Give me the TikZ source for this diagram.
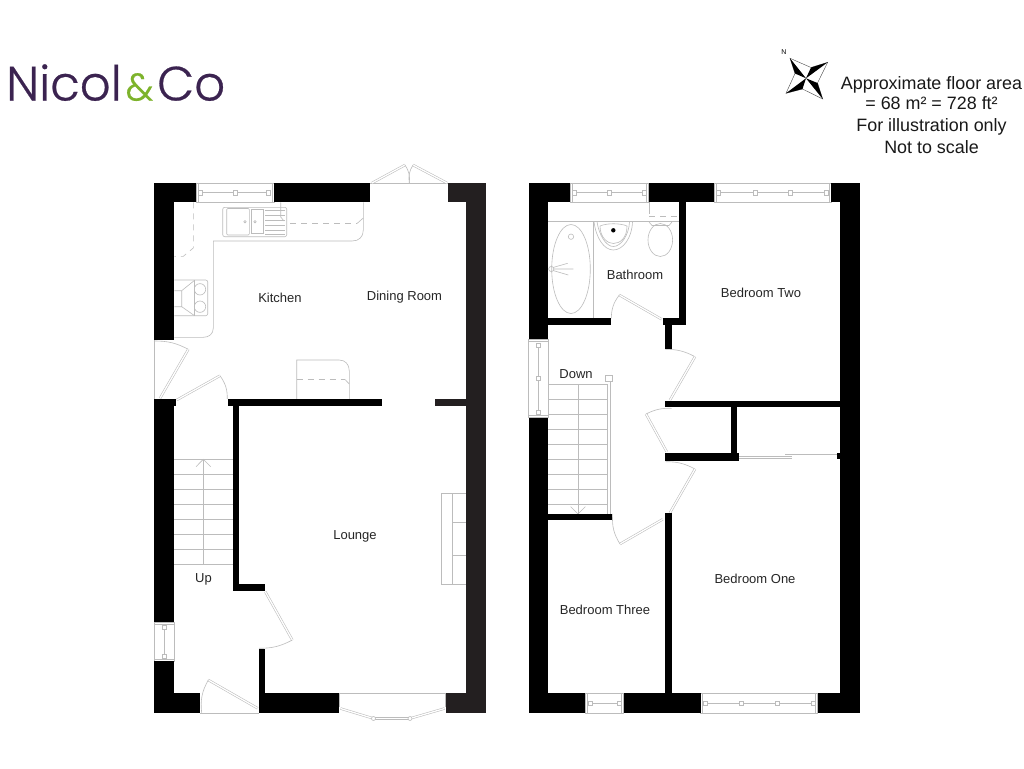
\documentclass[tikz,border=0pt]{standalone}
\usepackage{fontspec}
\setmainfont{Liberation Sans}
\newfontfamily\logofont[FakeBold=0.5]{Poppins Light}
\definecolor{lg}{HTML}{BCBCBC}
\definecolor{wl}{HTML}{000000}
\definecolor{wd}{HTML}{231F20}
\definecolor{plum}{HTML}{3B2350}
\definecolor{leaf}{HTML}{7DB32B}
\tikzset{
 wall/.style={fill=wl,draw=none},
 walld/.style={fill=wd,draw=none},
 thin line/.style={draw=lg,line width=.6pt},
 dash line/.style={draw=lg,line width=.6pt,dash pattern=on 6pt off 5pt},
 doorleaf/.style={draw=lg,line width=.55pt,double=white,double distance=1.3pt},
 roomlabel/.style={font=\fontsize{13}{15}\selectfont,text=black!85,inner sep=0pt},
 infolabel/.style={font=\fontsize{17.9}{21}\selectfont,text=black!90,inner sep=0pt},
}
\newcommand{\hwin}[5]{%
 \draw[thin line] (#1,#3) rectangle (#2,#4);
 \draw[thin line] (#1+2,#3) -- (#1+2,#4) (#2-2,#3) -- (#2-2,#4);
 \draw[thin line] (#1+4,{(#3+#4)/2}) -- (#2-4,{(#3+#4)/2});
 \foreach \q in {#5}{\draw[thin line,fill=white] (\q-1.8,{(#3+#4)/2-2.2}) rectangle (\q+1.8,{(#3+#4)/2+2.2});}
}
\newcommand{\vwin}[5]{%
 \draw[thin line] (#1,#3) rectangle (#2,#4);
 \draw[thin line] (#1,#3+2) -- (#2,#3+2) (#1,#4-2) -- (#2,#4-2);
 \draw[thin line] ({(#1+#2)/2},#3+4) -- ({(#1+#2)/2},#4-4);
 \foreach \q in {#5}{\draw[thin line,fill=white] ({(#1+#2)/2-2.2},\q-1.8) rectangle ({(#1+#2)/2+2.2},\q+1.8);}
}
\begin{document}
\begin{tikzpicture}[x=1pt,y=-1pt]
\useasboundingbox (0,0) rectangle (1024,768);
\fill[white] (0,0) rectangle (1024,768);

% ---------- Logo and notes
\node[anchor=base west,inner sep=0pt,text=plum] (logo) at (6,100.5) {\resizebox{219pt}{!}{\logofont Nicol\kern.08em\scalebox{.8}{\textcolor{leaf}{\&}}\kern.08em Co}};
\node[infolabel,anchor=base] (n1) at (931.5,89) {Approximate floor area};
\node[infolabel,anchor=base] (n2) at (931.5,109.5) {= 68 m² = 728 ft²};
\node[infolabel,anchor=base] (n3) at (931.5,131) {For illustration only};
\node[infolabel,anchor=base] (n4) at (931.5,153) {Not to scale};

% compass
\node[inner sep=0pt,font=\fontsize{7}{8}\selectfont] (north) at (784,52) {N};
\coordinate (cc) at (806,78.3);
\draw[black!70,line width=.4pt,fill=white] (790,58.3) -- (811,67.5) -- (827.7,62.3) -- (817.5,83) -- (822.7,99) -- (802.5,89) -- (786,93.3) -- (795,73.5) -- cycle;
\fill[black] (cc) -- (790,58.3) -- (795,73.5) -- cycle;
\fill[black] (cc) -- (827.7,62.3) -- (811,67.5) -- cycle;
\fill[black] (cc) -- (822.7,99) -- (817.5,83) -- cycle;
\fill[black] (cc) -- (786,93.3) -- (802.5,89) -- cycle;

% ---------- Ground floor fixtures
\hwin{196}{274}{183}{202.3}{200,235,268}
\vwin{154}{174.3}{622}{661}{627,656}
% French doors
\draw[thin line] (370,183.3) -- (448,183.3);
\draw[doorleaf] (372,183) -- (405,165);
\draw[doorleaf] (447,183) -- (413,165);
\draw[thin line] (405,165) to[bend left=20] (409.3,183);
\draw[thin line] (413,165) to[bend right=20] (409.3,183);
% back door
\draw[thin line] (154,340) -- (154,399);
\draw[thin line] (154,341) to[bend left=14] (188.3,349.3);
\draw[doorleaf] (188.3,349.3) -- (160,398.3);
% kitchen to hall
\draw[doorleaf] (176.7,400) -- (220,375.7);
\draw[thin line] (220,375.7) to[bend left=18] (227.3,399);
% lounge door
\draw[doorleaf] (265.3,591.7) -- (292.3,640);
\draw[thin line] (292.3,640) to[bend left=14] (259,648.3);
% front door
\draw[thin line] (200,713.3) -- (258.7,713.3);
\draw[doorleaf] (257.7,708.3) -- (208.3,680);
\draw[thin line] (208.3,680) to[bend right=18] (201.7,713);
% bay
\draw[thin line] (339,693.3) -- (445.7,693.3);
\draw[thin line] (339,693.3) -- (339,707) (445.7,693.3) -- (445.7,707);
\draw[doorleaf] (340.5,708.5) -- (373.5,718.5);
\draw[doorleaf] (373.5,718.5) -- (410,718.5);
\draw[doorleaf] (410,718.5) -- (444.5,708.5);
\draw[thin line,fill=white] (373.5,718.5) circle (2);
\draw[thin line,fill=white] (410,718.5) circle (2);
% kitchen units
\draw[thin line] (174.3,337.3) -- (203.3,337.3) .. controls (209,337.3) and (213.3,334) .. (213.3,328) -- (213.3,241) -- (352,241) .. controls (359,241) and (363.3,237) .. (363.3,230) -- (363.3,202.3);
\draw[dash line] (193.3,202.3) -- (193.3,248) -- (183.3,256.3) -- (174.3,256.3);
\draw[dash line] (290,223.5) -- (357,223.5);
\draw[thin line] (357,223.5) -- (363.3,218);
% sink
\draw[thin line,rounded corners=2pt] (222.7,207.3) rectangle (286.7,236.7);
\draw[thin line,rounded corners=1pt] (226.7,208.5) rectangle (249.3,235);
\draw[thin line] (251,209.3) rectangle (263.7,233.3);
\draw[thin line] (245,221.7) circle (1.2) (255,221.7) circle (1.2);
\foreach \yy in {210.5,215.5,220,225,230,234.5}{\draw[thin line] (265,\yy) -- (285,\yy);}
\draw[thin line] (280.7,202.3) -- (280.7,217) -- (284,221);
% hob
\draw[thin line,rounded corners=2pt] (174.3,280) -- (207.7,280) -- (207.7,315.7) -- (174.3,315.7);
\draw[thin line] (194.3,280) -- (194.3,315.7);
\draw[thin line] (200,289.3) circle (5.7) (200,306.7) circle (5.7);
\draw[thin line] (174.3,290.7) -- (181.7,290.7) -- (194.3,280.5) (174.3,306.7) -- (181.7,306.7) -- (194.3,315.5) (181.7,290.7) -- (181.7,306.7);
% dining unit
\draw[thin line] (296.7,399) -- (296.7,360) -- (339,360) .. controls (345,360) and (349.3,364) .. (349.3,371) -- (349.3,399);
\draw[dash line] (296.7,379.5) -- (345,379.5);
\draw[thin line] (345,379.5) -- (349.3,384);
% stairs up
\foreach \yy in {459.3,474.3,489.3,504.3,519.3,534.3,549.3,564.7}{\draw[thin line] (174.3,\yy) -- (232.7,\yy);}
\draw[thin line] (203.3,459.3) -- (203.3,564.7);
\draw[thin line] (196,466.7) -- (203.3,459.3) -- (210.7,466.7);
% lounge recess
\draw[thin line] (465.7,493) -- (441,493) -- (441,584.3) -- (465.7,584.3);
\draw[thin line] (452.3,493) -- (452.3,584.3) (452.3,522) -- (465.7,522) (452.3,555) -- (465.7,555);

% ---------- Ground floor walls
\fill[wall] (154,183) rectangle (196,202.3);
\fill[wall] (274,183) rectangle (370.3,202.3);
\fill[walld] (448.3,183) rectangle (485.7,202.3);
\fill[walld] (465.7,183) rectangle (485.7,713.3);
\fill[wall] (154,183) rectangle (174.3,340);
\fill[wall] (154,399) rectangle (174.3,622);
\fill[wall] (154,661) rectangle (174.3,713.3);
\fill[wall] (154,693.3) rectangle (200,713.3);
\fill[wall] (258.7,693.3) rectangle (339,713.3);
\fill[walld] (445.7,693.3) rectangle (485.7,713.3);
\fill[wall] (258.7,649) rectangle (265.3,693.3);
\fill[wall] (228,399) rectangle (382.3,405.7);
\fill[walld] (434.7,399) rectangle (466,405.7);
\fill[wall] (154,399) rectangle (176,405.7);
\fill[wall] (232.7,405) rectangle (239.3,590.7);
\fill[wall] (232.7,584) rectangle (265.3,590.7);

% ---------- First floor fixtures
\hwin{570.3}{648.7}{183}{202.3}{574.5,609.5,644.5}
\hwin{714.3}{831}{183}{202.3}{718.5,755,790.5,826.5}
\hwin{585}{623.7}{693.3}{713.3}{590,619}
\hwin{700.7}{817.7}{693.3}{713.3}{705,741,777,813}
\vwin{528.7}{548.3}{339.3}{417.7}{345,378.5,412.5}
% bathroom
\draw[thin line] (548.3,221.7) -- (679.3,221.7);
\draw[thin line] (593.3,221.7) -- (593.3,318.3);
\draw[thin line] (571,269) ellipse (19.3 and 44.5);
\draw[thin line] (571,236.7) circle (2.7);
\draw[thin line] (551.3,269) circle (2.6);
\draw[thin line] (553,267.5) -- (567.7,263.3) (553.8,269) -- (573.3,269) (553,270.5) -- (568.3,275);
% basin
\draw[thin line] (594,221.7) .. controls (596,238) and (604,250) .. (613.3,250) .. controls (623,250) and (632,238) .. (632.5,221.7);
\draw[thin line] (597,221.7) .. controls (599,235) and (606,246.5) .. (613.3,246.5) .. controls (621,246.5) and (629,235) .. (629.5,221.7);
\draw[thin line] (600,226) .. controls (600,238) and (608,243.5) .. (613.3,243.5) .. controls (620,243.5) and (627,238) .. (627,226) .. controls (620,223) and (607,223) .. (600,226);
\fill[black] (613.3,230.3) circle (2.2);
% wc
\draw[thin line] (660.3,240) ellipse (12.3 and 16.5);
\draw[thin line] (649,222) -- (652,225.5) -- (669,225.5) -- (672,222);
\draw[thin line] (649.3,202.3) -- (649.3,214);
\draw[dash line] (649.3,216.5) -- (679.3,216.5);
% bathroom door
\draw[doorleaf] (661.7,319.3) -- (619.3,295);
\draw[thin line] (619.3,295) to[bend right=18] (611.3,318.3);
% bedroom two door
\draw[thin line] (665.3,349.3) to[bend left=14] (695,356.7);
\draw[doorleaf] (695,356.7) -- (670,400);
% cupboard door
\draw[doorleaf] (666.7,451.7) -- (646,414);
\draw[thin line] (646,414) to[bend left=14] (671.7,408.3);
% bedroom one door
\draw[thin line] (665.7,461.7) to[bend left=14] (695,469);
\draw[doorleaf] (695,469) -- (670,512.7);
% bedroom three door
\draw[doorleaf] (662.7,519.3) -- (620,544);
\draw[thin line] (620,544) to[bend left=18] (612.7,514);
% sliding doors
\draw[doorleaf] (739.3,457.5) -- (791.7,457.5);
\draw[doorleaf] (785,455.2) -- (837.5,455.2);
% stairs down
\foreach \yy in {384,399,414,429.3,444.3,459.3,474.3,489.3,504.3}{\draw[thin line] (548.3,\yy) -- (607.3,\yy);}
\draw[thin line] (578,384) -- (578,514);
\draw[thin line] (607.3,384) -- (607.3,513.7) (610,381) -- (610,513.7);
\draw[thin line] (570.7,506.7) -- (578,514) -- (585.3,506.7);
\draw[thin line,fill=white] (605.5,375) rectangle (612,381.5);

% ---------- First floor walls
\fill[wall] (528.7,183) rectangle (570.3,202.3);
\fill[wall] (648.7,183) rectangle (714.3,202.3);
\fill[wall] (831,183) rectangle (860,202.3);
\fill[wall] (528.7,183) rectangle (548.3,339.3);
\fill[wall] (528.7,417.7) rectangle (548.3,713.3);
\fill[wall] (840,183) rectangle (860,713.3);
\fill[wall] (528.7,693.3) rectangle (585,713.3);
\fill[wall] (623.7,693.3) rectangle (700.7,713.3);
\fill[wall] (817.7,693.3) rectangle (860,713.3);
\fill[wall] (679.3,202) rectangle (686,325);
\fill[wall] (548,318.3) rectangle (610.7,325);
\fill[wall] (662.7,318.3) rectangle (686,325);
\fill[wall] (665.3,325) rectangle (672,349.3);
\fill[wall] (665.3,401) rectangle (840,407.3);
\fill[wall] (730.7,407) rectangle (737,459);
\fill[wall] (665.3,453) rectangle (739.3,461);
\fill[wall] (837.3,453) rectangle (840,459);
\fill[wall] (665.3,513.3) rectangle (672,693.5);
\fill[wall] (548,513.7) rectangle (611.7,520.3);

% ---------- Room labels
\node[roomlabel] (kitchen) at (280,298) {Kitchen};
\node[roomlabel] (dining) at (404.5,297) {Dining Room};
\node[roomlabel] (lounge) at (355,536) {Lounge};
\node[roomlabel] (up) at (203.5,579) {Up};
\node[roomlabel] (bathroom) at (635,275) {Bathroom};
\node[roomlabel] (bedtwo) at (761,293) {Bedroom Two};
\node[roomlabel] (down) at (576,374) {Down};
\node[roomlabel] (bedone) at (755,579) {Bedroom One};
\node[roomlabel] (bedthree) at (605,610) {Bedroom Three};
\end{tikzpicture}
\end{document}
